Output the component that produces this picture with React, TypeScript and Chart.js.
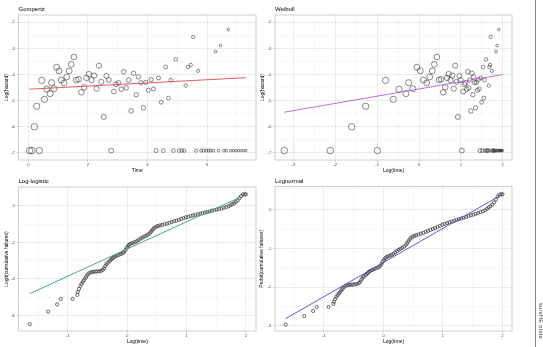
import React, { useEffect, useRef } from "react";
import { Chart, registerables } from "chart.js";

Chart.register(...registerables);

// ---------------- data ----------------
const gompTime = [
  0.04, 0.12, 0.2, 0.28, 0.37, 0.45, 0.54, 0.62, 0.73, 0.78, 0.86, 0.95, 1.03, 1.11, 1.2, 1.29, 1.37,
  1.44, 1.53, 1.61, 1.69, 1.78, 1.87, 1.95, 2.03, 2.12, 2.21, 2.29, 2.37, 2.45, 2.53, 2.62, 2.7, 2.78,
  2.87, 2.94, 3.03, 3.12, 3.2, 3.28, 3.37, 3.45, 3.53, 3.62, 3.69, 3.78, 3.86, 3.94, 4.03, 4.12, 4.2,
  4.29, 4.37, 4.46, 4.53, 4.61, 4.7, 4.78, 4.87, 4.95, 5.06, 5.15, 5.23, 5.28, 5.36, 5.45, 5.53, 5.63,
  5.7, 5.8, 5.88, 5.97, 6.05, 6.12, 6.21, 6.28, 6.38, 6.45, 6.57, 6.64, 6.71, 6.79, 6.88, 6.96, 7.05,
  7.13, 7.22, 7.3,
];
const gompLogHazard = [
  -6.91, -6.91, -6.0, -5.21, -6.91, -4.22, -4.95, -4.56, -4.73, -4.31, -4.54, -3.72, -3.86, -4.21, -4.32,
  -4.09, -3.86, -3.61, -3.33, -4.21, -4.18, -4.68, -4.49, -4.13, -3.98, -4.21, -4.04, -4.54, -3.66, -4.28,
  -5.62, -4.05, -4.21, -6.91, -4.65, -4.37, -4.32, -4.56, -3.89, -4.51, -4.21, -5.39, -3.95, -4.77, -4.09,
  -4.31, -5.27, -4.3, -4.6, -4.19, -4.55, -6.91, -4.13, -5.06, -6.91, -3.71, -4.9, -4.21, -6.91, -3.42,
  -6.91, -6.91, -6.91, -4.42, -3.71, -3.63, -2.56, -6.91, -3.86, -6.91, -6.91, -6.91, -6.91, -6.91, -6.91,
  -3.12, -6.91, -2.89, -6.91, -6.91, -2.28, -6.91, -6.91, -6.91, -6.91, -6.91, -6.91, -6.91,
];
const gompFitX = [0.04, 7.3];
const gompFitY = [-4.56, -4.12];
const weibFitX = [-3.22, 1.99];
const weibFitY = [-5.44, -4.0];

const cdfLogTime = [
  -1.64, -1.33, -1.18, -1.12, -0.92, -0.84, -0.83, -0.81, -0.79, -0.77, -0.75, -0.73, -0.71, -0.69, -0.67,
  -0.65, -0.62, -0.59, -0.56, -0.53, -0.5, -0.47, -0.44, -0.41, -0.39, -0.37, -0.35, -0.33, -0.3, -0.28,
  -0.26, -0.24, -0.22, -0.19, -0.16, -0.13, -0.1, -0.07, -0.05, -0.03, -0.01, 0.01, 0.03, 0.05, 0.08, 0.11,
  0.14, 0.17, 0.2, 0.23, 0.26, 0.29, 0.32, 0.35, 0.38, 0.4, 0.42, 0.44, 0.46, 0.49, 0.52, 0.55, 0.59, 0.63,
  0.67, 0.71, 0.75, 0.79, 0.83, 0.87, 0.91, 0.95, 0.99, 1.03, 1.07, 1.11, 1.15, 1.19, 1.23, 1.27, 1.31,
  1.35, 1.39, 1.43, 1.47, 1.51, 1.55, 1.59, 1.63, 1.67, 1.71, 1.74, 1.77, 1.8, 1.83, 1.86, 1.89, 1.92,
  1.95, 1.98, 2.0,
];
const cdfLogit = [
  -6.49, -5.8, -5.4, -5.1, -5.1, -4.88, -4.72, -4.55, -4.4, -4.28, -4.18, -4.08, -3.98, -3.88, -3.78, -3.7,
  -3.65, -3.62, -3.61, -3.6, -3.59, -3.58, -3.56, -3.5, -3.42, -3.3, -3.2, -3.12, -3.04, -2.97, -2.91, -2.85,
  -2.8, -2.76, -2.71, -2.67, -2.63, -2.58, -2.52, -2.42, -2.3, -2.22, -2.14, -2.08, -2.04, -2.01, -1.97,
  -1.92, -1.85, -1.78, -1.73, -1.68, -1.63, -1.58, -1.5, -1.42, -1.34, -1.26, -1.19, -1.14, -1.1, -1.07,
  -1.04, -1.0, -0.97, -0.92, -0.88, -0.84, -0.8, -0.76, -0.71, -0.67, -0.62, -0.59, -0.55, -0.52, -0.49,
  -0.46, -0.42, -0.39, -0.36, -0.33, -0.3, -0.26, -0.23, -0.2, -0.17, -0.14, -0.1, -0.06, -0.02, 0.04, 0.1,
  0.15, 0.22, 0.3, 0.42, 0.55, 0.63, 0.64, 0.64,
];
const llFitX = [-1.64, 1.91];
const llFitY = [-4.81, 0.49];
const lnFitX = [-1.64, 1.955];
const lnFitY = [-2.81, 0.36];

// tick labels
const timeMajor = [0, 2, 4, 6];
const timeMinor = [1, 3, 5, 7];
const hazMajor = [-7, -6, -5, -4, -3, -2];
const hazMinor = [-6.5, -5.5, -4.5, -3.5, -2.5];
const weibXMajor = [-3, -2, -1, 0, 1, 2];
const weibXMinor = [-2.5, -1.5, -0.5, 0.5, 1.5];
const cdfXMajor = [-1, 0, 1, 2];
const cdfXMinor = [-1.5, -0.5, 0.5, 1.5];
const logitMajor = [-6, -4, -2, 0];
const logitMinor = [-5, -3, -1];
const probitMajor = [-3, -2, -1, 0];
const probitMinor = [-2.5, -1.5, -0.5];

// ---------------- helpers ----------------
const FONT = "'Liberation Sans', Arial, Helvetica, sans-serif";

function invNorm(p: number): number {
  const a = [-39.69683028665376, 220.9460984245205, -275.9285104469687, 138.357751867269, -30.66479806614716, 2.506628277459239];
  const b = [-54.47609879822406, 161.5858368580409, -155.6989798598866, 66.80131188771972, -13.28068155288572];
  const c = [-0.007784894002430293, -0.3223964580411365, -2.400758277161838, -2.549732539343734, 4.374664141464968, 2.938163982698783];
  const d = [0.007784695709041462, 0.3224671290700398, 2.445134137142996, 3.754408661907416];
  const plow = 0.02425;
  if (p < plow) {
    const q = Math.sqrt(-2 * Math.log(p));
    return (((((c[0] * q + c[1]) * q + c[2]) * q + c[3]) * q + c[4]) * q + c[5]) / ((((d[0] * q + d[1]) * q + d[2]) * q + d[3]) * q + 1);
  }
  if (p <= 1 - plow) {
    const q = p - 0.5;
    const r = q * q;
    return ((((((a[0] * r + a[1]) * r + a[2]) * r + a[3]) * r + a[4]) * r + a[5]) * q) / (((((b[0] * r + b[1]) * r + b[2]) * r + b[3]) * r + b[4]) * r + 1);
  }
  const q = Math.sqrt(-2 * Math.log(1 - p));
  return -(((((c[0] * q + c[1]) * q + c[2]) * q + c[3]) * q + c[4]) * q + c[5]) / ((((d[0] * q + d[1]) * q + d[2]) * q + d[3]) * q + 1);
}
const logitToProbit = (l: number) => invNorm(1 / (1 + Math.exp(-l)));

const gompRadius = (i: number) => Math.max(1.2, 3.3 - 0.3 * gompTime[i]);

const panelPlugin = {
  id: "panelFrame",
  afterDraw(chart: any) {
    const { ctx, chartArea: a } = chart;
    const o = chart.options.plugins.panelFrame;
    ctx.save();
    ctx.strokeStyle = "#c4c4c4";
    ctx.lineWidth = 0.8;
    ctx.strokeRect(a.left, a.top, a.right - a.left, a.bottom - a.top);
    ctx.fillStyle = "#000";
    ctx.font = `6px ${FONT}`;
    ctx.textBaseline = "middle";
    ctx.textAlign = "left";
    ctx.fillText(o.title, a.left, a.top - o.titleGap);
    ctx.restore();
  },
};

type Spec = {
  box: { x: number; y: number; w: number; h: number };
  area: { left: number; top: number; right: number; bottom: number };
  title: string;
  titleGap: number;
  xTitle: string;
  yTitle: string;
  xRange: [number, number];
  yRange: [number, number];
  xMajor: number[];
  xMinor: number[];
  yMajor: number[];
  yMinor: number[];
  xTitlePad: number;
  yTitlePad: number;
  datasets: () => any[];
};

const isIn = (arr: number[], v: number) => arr.some((m) => Math.abs(m - v) < 1e-9);

function makeScale(s: Spec, axis: "x" | "y") {
  const major = axis === "x" ? s.xMajor : s.yMajor;
  const minor = axis === "x" ? s.xMinor : s.yMinor;
  const range = axis === "x" ? s.xRange : s.yRange;
  return {
    type: "linear",
    position: axis === "x" ? "bottom" : "left",
    min: range[0],
    max: range[1],
    afterFit: (sc: any) => {
      if (axis === "x") sc.height = s.box.y + s.box.h - s.area.bottom;
      else sc.width = s.area.left - s.box.x;
    },
    afterBuildTicks: (sc: any) => {
      sc.ticks = [...major, ...minor].sort((p, q) => p - q).map((v) => ({ value: v }));
    },
    ticks: {
      autoSkip: false,
      maxRotation: 0,
      minRotation: 0,
      padding: axis === "x" ? 0.5 : 1.5,
      color: "#4d4d4d",
      font: { family: FONT, size: 4.3 },
      callback: (v: number) => (isIn(major, v) ? String(v) : ""),
    },
    grid: {
      color: (c: any) => (c.tick && isIn(major, c.tick.value) ? "#e2e2e2" : "#f0f0f0"),
      lineWidth: (c: any) => (c.tick && isIn(major, c.tick.value) ? 0.7 : 0.45),
      drawTicks: true,
      tickLength: 2,
      tickWidth: 0.6,
      tickColor: (c: any) => (c.tick && isIn(major, c.tick.value) ? "#b0b0b0" : "rgba(0,0,0,0)"),
    },
    border: { display: false },
    title: {
      display: true,
      text: axis === "x" ? s.xTitle : s.yTitle,
      color: "#000",
      font: { family: FONT, size: 5 },
      padding: axis === "x" ? { top: 0, bottom: s.xTitlePad } : { top: s.yTitlePad, bottom: 0 },
    },
  };
}

const pointStyle = {
  backgroundColor: "rgba(0,0,0,0)",
  borderColor: "#3a3a3a",
  borderWidth: 0.6,
  pointHoverRadius: 0,
};

const lineDs = (xs: number[], ys: number[], color: string) => ({
  data: xs.map((x, i) => ({ x, y: ys[i] })),
  showLine: true,
  borderColor: color,
  borderWidth: 0.9,
  pointRadius: 0,
  fill: false,
  order: 0,
});

const specs: Spec[] = [
  {
    box: { x: 0, y: 0, w: 262, h: 174 },
    area: { left: 18.5, top: 15, right: 256, bottom: 160 },
    title: "Gompertz",
    titleGap: 5.3,
    xTitle: "Time",
    yTitle: "Log(hazard)",
    xRange: [-0.33, 7.64],
    yRange: [-7.27, -1.72],
    xMajor: timeMajor,
    xMinor: timeMinor,
    yMajor: hazMajor,
    yMinor: hazMinor,
    xTitlePad: 0.6,
    yTitlePad: 3.2,
    datasets: () => [
      lineDs(gompFitX, gompFitY, "#e5484f"),
      {
        ...pointStyle,
        data: gompTime.map((t, i) => ({ x: t, y: gompLogHazard[i] })),
        pointRadius: (c: any) => gompRadius(c.dataIndex),
        order: 1,
      },
    ],
  },
  {
    box: { x: 258, y: 0, w: 260, h: 174 },
    area: { left: 275, top: 15, right: 512, bottom: 160 },
    title: "Weibull",
    titleGap: 5.5,
    xTitle: "Log(time)",
    yTitle: "Log(hazard)",
    xRange: [-3.44, 2.22],
    yRange: [-7.27, -1.72],
    xMajor: weibXMajor,
    xMinor: weibXMinor,
    yMajor: hazMajor,
    yMinor: hazMinor,
    xTitlePad: 0.6,
    yTitlePad: 1.5,
    datasets: () => [
      lineDs(weibFitX, weibFitY, "#b25fdc"),
      {
        ...pointStyle,
        data: gompTime.map((t, i) => ({ x: Math.log(t), y: gompLogHazard[i] })),
        pointRadius: (c: any) => gompRadius(c.dataIndex),
        order: 1,
      },
    ],
  },
  {
    box: { x: 0, y: 174, w: 262, h: 173 },
    area: { left: 18.5, top: 187, right: 256, bottom: 331 },
    title: "Log-logistic",
    titleGap: 6,
    xTitle: "Log(time)",
    yTitle: "Logit(cumulative failures)",
    xRange: [-1.83, 2.17],
    yRange: [-6.86, 1.04],
    xMajor: cdfXMajor,
    xMinor: cdfXMinor,
    yMajor: logitMajor,
    yMinor: logitMinor,
    xTitlePad: 2.4,
    yTitlePad: 3.4,
    datasets: () => [
      lineDs(llFitX, llFitY, "#3a9c80"),
      {
        ...pointStyle,
        borderColor: "#3c3c3c",
        borderWidth: 0.75,
        data: cdfLogTime.map((x, i) => ({ x, y: cdfLogit[i] })),
        pointRadius: 1.6,
        order: 1,
      },
    ],
  },
  {
    box: { x: 258, y: 174, w: 260, h: 173 },
    area: { left: 275, top: 186.5, right: 512, bottom: 331 },
    title: "Lognormal",
    titleGap: 5.5,
    xTitle: "Log(time)",
    yTitle: "Probit(cumulative failures)",
    xRange: [-1.82, 2.16],
    yRange: [-3.13, 0.6],
    xMajor: cdfXMajor,
    xMinor: cdfXMinor,
    yMajor: probitMajor,
    yMinor: probitMinor,
    xTitlePad: 2.4,
    yTitlePad: 0.8,
    datasets: () => [
      lineDs(lnFitX, lnFitY, "#4f45d4"),
      {
        ...pointStyle,
        borderColor: "#3c3c3c",
        borderWidth: 0.75,
        data: cdfLogTime.map((x, i) => ({ x, y: logitToProbit(cdfLogit[i]) })),
        pointRadius: 1.6,
        order: 1,
      },
    ],
  },
];

function Panel({ spec }: { spec: Spec }) {
  const ref = useRef<HTMLCanvasElement>(null);
  useEffect(() => {
    if (!ref.current) return;
    const s = spec;
    const chart = new Chart(ref.current, {
      type: "scatter",
      data: { datasets: s.datasets() },
      options: {
        responsive: false,
        maintainAspectRatio: false,
        animation: false,
        events: [],
        layout: {
          padding: {
            top: s.area.top - s.box.y,
            right: s.box.x + s.box.w - s.area.right,
            bottom: 0,
            left: 0,
          },
        },
        plugins: {
          legend: { display: false },
          tooltip: { enabled: false },
          title: { display: false },
          panelFrame: { title: s.title, titleGap: s.titleGap },
        } as any,
        scales: { x: makeScale(s, "x"), y: makeScale(s, "y") } as any,
      },
      plugins: [panelPlugin],
    } as any);
    return () => chart.destroy();
  }, [spec]);
  return (
    <canvas
      ref={ref}
      width={spec.box.w}
      height={spec.box.h}
      style={{ position: "absolute", left: spec.box.x, top: spec.box.y, width: spec.box.w, height: spec.box.h }}
    />
  );
}

export default function App() {
  return (
    <div
      style={{
        position: "fixed",
        left: 0,
        top: 0,
        width: 543,
        height: 347,
        background: "#fff",
        overflow: "hidden",
        fontFamily: FONT,
      }}
    >
      {specs.map((s, i) => (
        <Panel key={i} spec={s} />
      ))}
      <div style={{ position: "absolute", left: 535, top: 0, width: 1.2, height: 347, background: "#858585" }} />
      <div
        style={{
          position: "absolute",
          left: 537.5,
          top: 303,
          fontSize: 5.5,
          lineHeight: "6px",
          color: "#333",
          writingMode: "vertical-rl",
          whiteSpace: "nowrap",
          letterSpacing: 0.4,
        }}
      >
        survHE plots
      </div>
    </div>
  );
}
